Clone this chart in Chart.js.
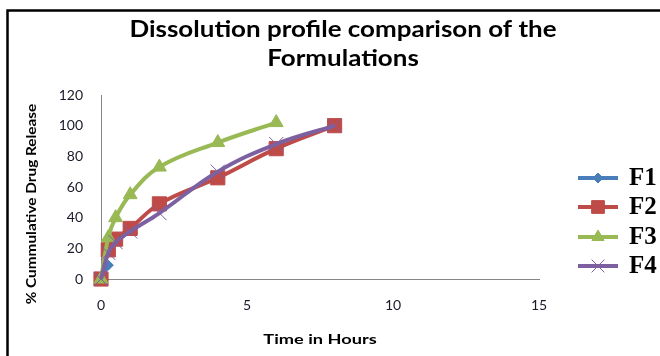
<!DOCTYPE html>
<html>
<head>
<meta charset="utf-8">
<script src="https://cdn.jsdelivr.net/npm/chart.js@4/dist/chart.umd.min.js"></script>
<style>
  html, body { margin: 0; padding: 0; background: #ffffff; }
  #wrap { width: 660px; height: 356px; position: relative; }
</style>
</head>
<body>
<div id="wrap"><canvas id="c" width="660" height="356"></canvas></div>
<script>
// Sampling times (hours) and cumulative % drug released for each formulation
const timesF1 = [0, 0.25];
const releaseF1 = [0, 9];

const timesF2 = [0, 0.25, 0.5, 1, 2, 4, 6, 8];
const releaseF2 = [0, 19, 26, 33, 49, 66, 85, 100];

const timesF3 = [0, 0.25, 0.5, 1, 2, 4, 6];
const releaseF3 = [0, 27, 40, 55, 73, 89, 102];

const timesF4 = [0, 0.25, 0.5, 1, 2, 4, 6, 8];
const releaseF4 = [0, 17, 24, 31, 43, 70, 88, 100];

const seriesNames = ['F1', 'F2', 'F3', 'F4'];
const xTicks = [0, 5, 10, 15];
const yTicks = [0, 20, 40, 60, 80, 100, 120];

const titleLines = ['Dissolution profile comparison of the', 'Formulations'];
const xTitle = 'Time in Hours';
const yTitle = '% Cummulative Drug Release';

function pairs(xs, ys) {
  return xs.map((x, i) => ({ x: x, y: ys[i] }));
}

const colors = ['#4A7EBB', '#BE4B48', '#98B954', '#7D60A0'];
const styles = [
  { pointStyle: 'rectRot', radius: 5, legendRadius: 5 },
  { pointStyle: 'rect', radius: 10, legendRadius: 9 },
  { pointStyle: 'triangle', radius: 8, legendRadius: 7 },
  { pointStyle: 'crossRot', radius: 10, legendRadius: 9 }
];

const seriesData = [
  pairs(timesF1, releaseF1),
  pairs(timesF2, releaseF2),
  pairs(timesF3, releaseF3),
  pairs(timesF4, releaseF4)
];

const datasets = seriesNames.map((name, i) => ({
  label: name,
  data: seriesData[i],
  borderColor: colors[i],
  backgroundColor: colors[i],
  pointBorderColor: colors[i],
  pointBackgroundColor: colors[i],
  borderWidth: 4,
  pointStyle: styles[i].pointStyle,
  pointRadius: styles[i].radius,
  pointBorderWidth: 1,
  tension: 0.4,
  fill: false,
  clip: false,
  order: seriesNames.length - i
}));

// Draws text centred on (x, y), widened horizontally by sx
function wideText(ctx, text, x, y, font, sx, angle) {
  ctx.save();
  ctx.translate(x, y);
  if (angle) ctx.rotate(angle);
  ctx.scale(sx, 1);
  ctx.font = font;
  ctx.textAlign = 'center';
  ctx.textBaseline = 'middle';
  ctx.fillStyle = '#000000';
  ctx.fillText(text, 0, 0);
  ctx.restore();
}

// Frame, heading, axis titles and the line+marker legend
const decorations = {
  id: 'decorations',
  beforeDraw(chart) {
    const ctx = chart.ctx;
    ctx.save();
    ctx.fillStyle = '#ffffff';
    ctx.fillRect(0, 0, chart.width, chart.height);
    ctx.strokeStyle = '#000000';
    ctx.lineWidth = 2.5;
    ctx.beginPath();
    ctx.moveTo(7.5, chart.height + 2);
    ctx.lineTo(7.5, 10.5);
    ctx.lineTo(chart.width + 2, 10.5);
    ctx.stroke();
    ctx.restore();
  },
  afterDraw(chart) {
    const ctx = chart.ctx;
    ctx.save();
    wideText(ctx, titleLines[0], 343, 30, 'bold 22px Lato', 1.18);
    wideText(ctx, titleLines[1], 343, 59, 'bold 22px Lato', 1.18);
    wideText(ctx, yTitle, 32, 204, 'bold 13px Lato', 1.18, -Math.PI / 2);
    wideText(ctx, xTitle, 320, 339, 'bold 14px Lato', 1.3);

    // legend
    const rows = [178, 207, 237, 266];
    chart.data.datasets.forEach((ds, i) => {
      const y = rows[i];
      ctx.strokeStyle = ds.borderColor;
      ctx.lineWidth = 4;
      ctx.beginPath();
      ctx.moveTo(578, y);
      ctx.lineTo(618, y);
      ctx.stroke();
      ctx.fillStyle = ds.borderColor;
      ctx.strokeStyle = ds.borderColor;
      ctx.lineWidth = 1;
      Chart.helpers.drawPoint(ctx, {
        pointStyle: ds.pointStyle,
        radius: styles[i].legendRadius,
        rotation: 0,
        borderWidth: 1
      }, 598, y);
      ctx.fillStyle = '#000000';
      ctx.textAlign = 'left';
      ctx.textBaseline = 'middle';
      ctx.font = 'bold 25px "Liberation Serif"';
      ctx.fillText(ds.label, 629, y + 1);
    });
    ctx.restore();
  }
};

new Chart(document.getElementById('c'), {
  type: 'line',
  data: { datasets: datasets },
  options: {
    responsive: false,
    animation: false,
    events: [],
    layout: { padding: { left: 8, right: 121, top: 95, bottom: 0 } },
    plugins: {
      legend: { display: false },
      title: { display: false },
      tooltip: { enabled: false }
    },
    scales: {
      x: {
        type: 'linear',
        min: xTicks[0],
        max: xTicks[xTicks.length - 1],
        afterBuildTicks(scale) { scale.ticks = xTicks.map(v => ({ value: v })); },
        afterFit(scale) { scale.height = 77; },
        grid: { display: false, drawTicks: false },
        border: { display: true, color: '#868686', width: 1 },
        ticks: { padding: 18, color: '#1a1a2a', font: { family: 'Lato', size: 14 } }
      },
      y: {
        type: 'linear',
        min: yTicks[0],
        max: yTicks[yTicks.length - 1],
        afterBuildTicks(scale) { scale.ticks = yTicks.map(v => ({ value: v })); },
        afterFit(scale) { scale.width = 93; },
        grid: { display: false, drawTicks: false },
        border: { display: true, color: '#868686', width: 1 },
        ticks: { padding: 18, color: '#1a1a2a', font: { family: 'Lato', size: 14 } }
      }
    }
  },
  plugins: [decorations]
});
</script>
</body>
</html>
